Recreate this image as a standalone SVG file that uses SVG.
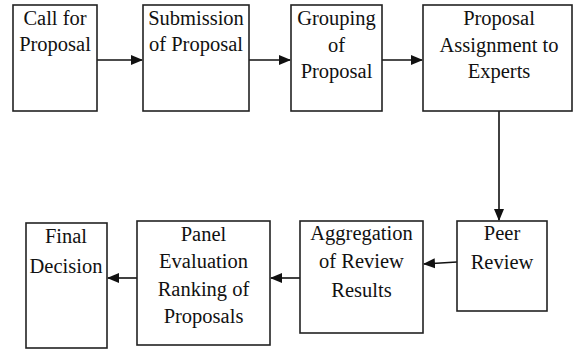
<svg xmlns="http://www.w3.org/2000/svg" width="573" height="349" viewBox="0 0 573 349">
<style>
.box{fill:#fff;stroke:#222;stroke-width:1.6}
.t{font-size:20.5px;fill:#111;text-anchor:middle}
.c{stroke:#111;stroke-width:1.6;fill:none;marker-end:url(#ah)}
</style>
<defs>
<marker id="ah" markerWidth="12" markerHeight="12" refX="11" refY="5" orient="auto" markerUnits="userSpaceOnUse" viewBox="0 0 12 10">
<path d="M0,0 L12,5 L0,10 Z" fill="#111"/>
</marker>
</defs>
<rect width="573" height="349" fill="#fff"/>
<g id="connectors">
<line class="c" x1="97" y1="60" x2="142" y2="60"/>
<line class="c" x1="249" y1="60" x2="290" y2="60"/>
<line class="c" x1="382" y1="60" x2="422" y2="60"/>
<line class="c" x1="499" y1="111" x2="499" y2="220"/>
<line class="c" x1="457" y1="262" x2="424" y2="264"/>
<line class="c" x1="300" y1="278" x2="271" y2="278"/>
<line class="c" x1="137" y1="278" x2="108" y2="278"/>
</g>
<g font-family="Liberation Serif, serif">
<g id="call">
<rect class="box" x="13" y="5" width="84" height="106"/>
<text class="t" x="55" y="25">Call for</text>
<text class="t" x="55" y="51">Proposal</text>
</g>
<g id="submission">
<rect class="box" x="143" y="5" width="106" height="106"/>
<text class="t" x="196" y="25">Submission</text>
<text class="t" x="196" y="51">of Proposal</text>
</g>
<g id="grouping">
<rect class="box" x="291" y="5" width="91" height="106"/>
<text class="t" x="336.5" y="25">Grouping</text>
<text class="t" x="336.5" y="52">of</text>
<text class="t" x="336.5" y="78">Proposal</text>
</g>
<g id="assignment">
<rect class="box" x="423" y="5" width="149" height="106"/>
<text class="t" x="499" y="25">Proposal</text>
<text class="t" x="499" y="52">Assignment to</text>
<text class="t" x="499" y="78">Experts</text>
</g>
<g id="peer">
<rect class="box" x="457" y="221" width="90" height="90"/>
<text class="t" x="502" y="240">Peer</text>
<text class="t" x="502" y="269">Review</text>
</g>
<g id="aggregation">
<rect class="box" x="300" y="221" width="123" height="112"/>
<text class="t" x="361.5" y="240">Aggregation</text>
<text class="t" x="361.5" y="268">of Review</text>
<text class="t" x="361.5" y="297">Results</text>
</g>
<g id="panel">
<rect class="box" x="137" y="221" width="133" height="124"/>
<text class="t" x="203.5" y="241">Panel</text>
<text class="t" x="203.5" y="268">Evaluation</text>
<text class="t" x="203.5" y="296">Ranking of</text>
<text class="t" x="203.5" y="323">Proposals</text>
</g>
<g id="final">
<rect class="box" x="26" y="223" width="81" height="125"/>
<text class="t" x="66" y="243">Final</text>
<text class="t" x="66" y="273">Decision</text>
</g>
</g>
</svg>
